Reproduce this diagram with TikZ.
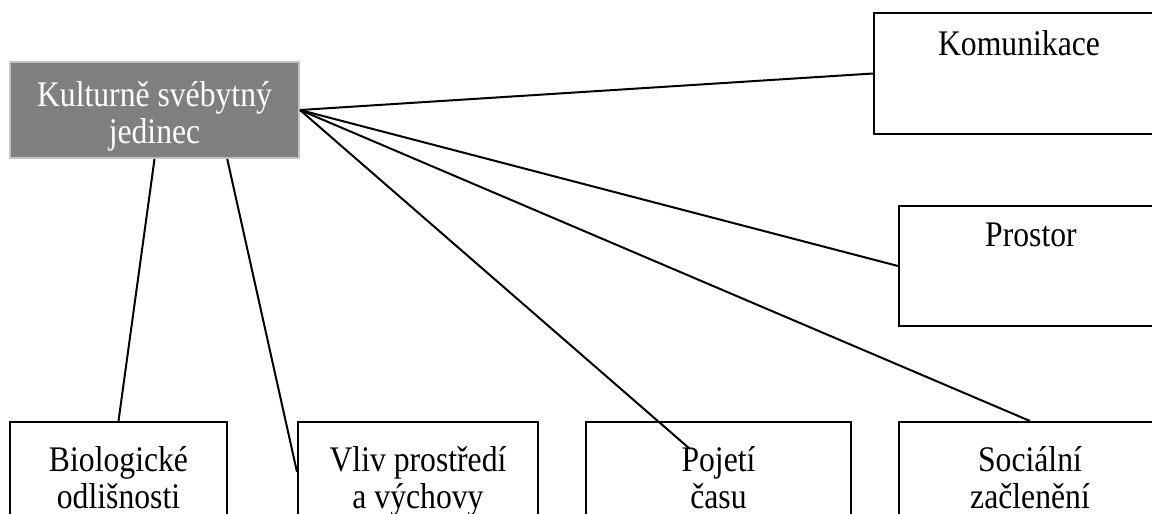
\documentclass[tikz,border=0pt]{standalone}
\usepackage{fontspec}
\setmainfont{Liberation Serif}[FakeStretch=0.88]
\usetikzlibrary{positioning,calc}
\definecolor{hubgray}{HTML}{7F7F7F}
\definecolor{hubedge}{HTML}{C3C3C3}

\begin{document}
\begin{tikzpicture}[x=0.5pt,y=-0.5pt,
        every node/.style={font=\fontsize{18}{17}\selectfont},
        hub/.style={draw=hubedge, fill=hubgray, line width=1pt,
            minimum width=144.5pt, minimum height=48pt, inner sep=0pt},
        topic/.style={draw, line width=1pt, minimum height=50pt, inner sep=0pt},
        sidebox/.style={draw, line width=1pt, minimum height=60.5pt, inner sep=0pt},
        boxtext/.style={inner sep=0pt, align=center},
        link/.style={line width=1pt}]
            \useasboundingbox (0,0) rectangle (1152,514);
            \clip (0,0) rectangle (1152,514);
            \node[hub] (cen) at (154.5,110) {};
            \node[boxtext, text=white, below=10.1pt of cen.north] (centext) {\strut Kulturně svébytný\\\strut jedinec};
            \node[sidebox, minimum width=145pt] (kom) at (1019,73.5) {};
            \node[boxtext, below=9.1pt of kom.north] (komtext) {\strut Komunikace};
            \node[sidebox, minimum width=132pt, minimum height=60pt] (pro) at (1031,266) {};
            \node[boxtext, below=8.6pt of pro.north] (protext) {\strut Prostor};
            \node[topic, minimum width=108.5pt] (bio) at (118.5,472) {};
            \node[boxtext, below=12.6pt of bio.north] (biotext) {\strut Biologické\\\strut odlišnosti};
            \node[topic, minimum width=120pt] (vliv) at (418,472) {};
            \node[boxtext, below=12.6pt of vliv.north] (vlivtext) {\strut Vliv prostředí\\\strut a výchovy};
            \node[topic, minimum width=132.5pt] (poj) at (718.5,472) {};
            \node[boxtext, below=12.6pt of poj.north] (pojtext) {\strut Pojetí\\\strut času};
            \node[topic, minimum width=131pt] (soc) at (1030,472) {};
            \node[boxtext, below=12.6pt of soc.north] (soctext) {\strut Sociální\\\strut začlenění};
            \coordinate (pojend) at (690,449);
            \draw[link] (cen.east) -- (kom.west);
            \draw[link] (cen.east) -- (pro.west);
            \draw[link] (cen.east) -- (pojend);
            \draw[link] (cen.east) -- (soc.north);
            \draw[link] (cen.south) -- (bio.north);
            \draw[link] ($(cen.south)!0.5!(cen.south east)$) -- (vliv.west);
        \end{tikzpicture}
\end{document}
